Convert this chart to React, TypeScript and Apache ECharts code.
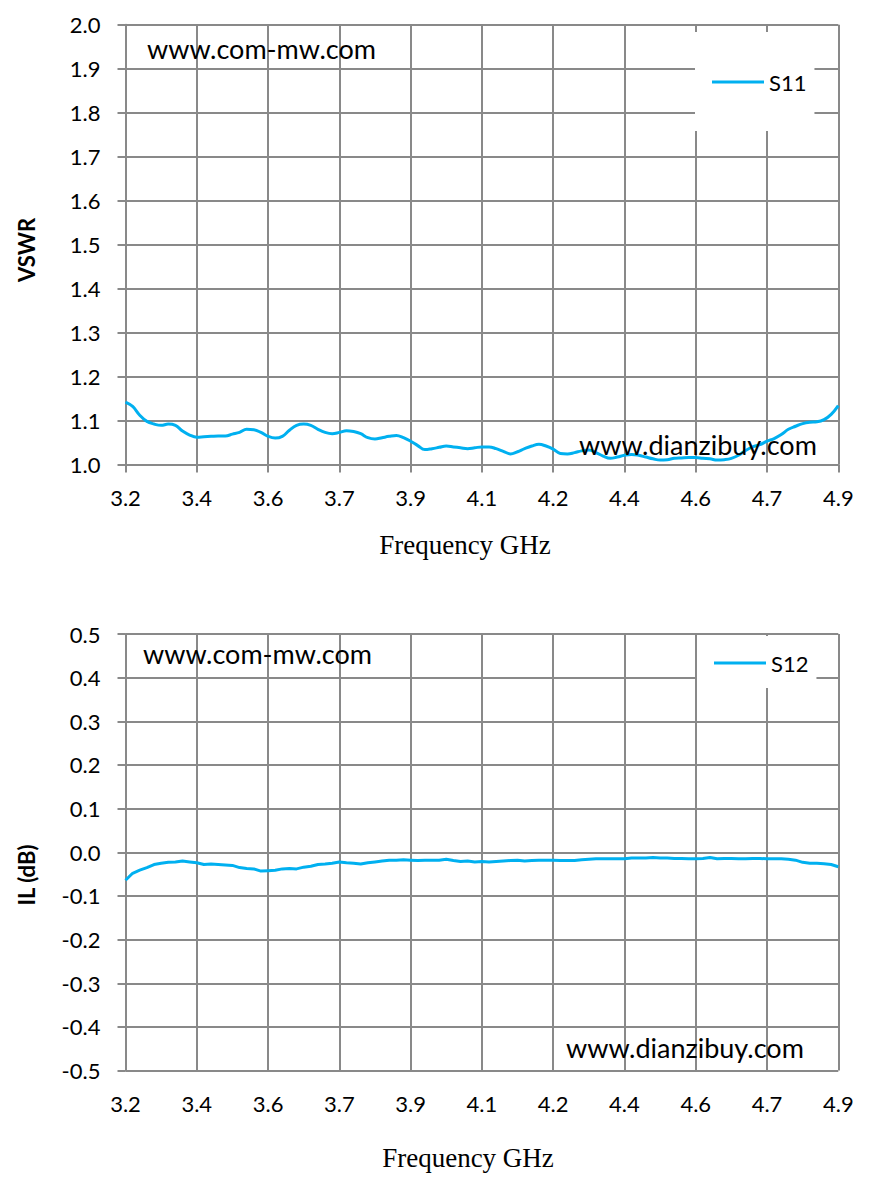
import React, { useEffect, useRef } from "react";
import * as echarts from "echarts";

const X_TICKS = ["3.2", "3.4", "3.6", "3.7", "3.9", "4.1", "4.2", "4.4", "4.6", "4.7", "4.9"];
// 101 sample points between 3.2 and 4.9 GHz
const FREQ: string[] = Array.from({ length: 101 }, (_, i) => (3.2 + i * 0.017).toFixed(3));

const S11: number[] = [
  1.142, 1.132, 1.112, 1.098, 1.092, 1.089, 1.092, 1.089, 1.076, 1.067,
  1.062, 1.063, 1.064, 1.065, 1.065, 1.069, 1.073, 1.080, 1.079, 1.073,
  1.064, 1.060, 1.064, 1.078, 1.089, 1.092, 1.089, 1.080, 1.073, 1.070,
  1.073, 1.077, 1.075, 1.070, 1.061, 1.058, 1.061, 1.064, 1.066, 1.061,
  1.053, 1.043, 1.034, 1.036, 1.039, 1.042, 1.040, 1.038, 1.036, 1.038,
  1.040, 1.040, 1.036, 1.030, 1.024, 1.029, 1.036, 1.042, 1.046, 1.042,
  1.035, 1.025, 1.024, 1.027, 1.031, 1.033, 1.027, 1.019, 1.014, 1.017,
  1.021, 1.023, 1.021, 1.017, 1.013, 1.010, 1.011, 1.014, 1.015, 1.016,
  1.016, 1.014, 1.013, 1.010, 1.011, 1.014, 1.021, 1.032, 1.040, 1.045,
  1.053, 1.059, 1.068, 1.080, 1.087, 1.093, 1.096, 1.097, 1.102, 1.114,
  1.134,
];

const S12: number[] = [
  -0.064, -0.048, -0.041, -0.035, -0.028, -0.025, -0.023, -0.022, -0.020, -0.022,
  -0.024, -0.028, -0.027, -0.028, -0.029, -0.030, -0.035, -0.037, -0.038, -0.043,
  -0.042, -0.041, -0.038, -0.037, -0.038, -0.034, -0.032, -0.028, -0.027, -0.025,
  -0.022, -0.024, -0.025, -0.027, -0.024, -0.022, -0.020, -0.018, -0.018, -0.017,
  -0.018, -0.019, -0.018, -0.018, -0.018, -0.016, -0.019, -0.021, -0.020, -0.022,
  -0.021, -0.022, -0.021, -0.020, -0.019, -0.018, -0.020, -0.019, -0.018, -0.018,
  -0.018, -0.019, -0.019, -0.019, -0.017, -0.016, -0.015, -0.015, -0.015, -0.015,
  -0.015, -0.013, -0.013, -0.013, -0.012, -0.013, -0.013, -0.014, -0.014, -0.015,
  -0.015, -0.014, -0.012, -0.015, -0.014, -0.014, -0.015, -0.015, -0.014, -0.014,
  -0.015, -0.015, -0.015, -0.016, -0.018, -0.023, -0.025, -0.025, -0.026, -0.028,
  -0.033,
];

const GRID_COLOR = "#898989";
const LINE_COLOR = "#00B0F0";
const FONT = "Lato";

function xAxisFor(gridIndex: number) {
  return {
    type: "category",
    gridIndex,
    data: FREQ,
    boundaryGap: false,
    axisLine: { show: true, lineStyle: { color: GRID_COLOR, width: 2 } },
    axisTick: { show: true, interval: 9, length: 8, lineStyle: { color: GRID_COLOR, width: 2 } },
    splitLine: { show: true, interval: 9, lineStyle: { color: GRID_COLOR, width: 2 } },
    axisLabel: {
      interval: 9,
      margin: 22,
      color: "#000",
      fontFamily: FONT,
      fontSize: 22,
      formatter: (_v: string, idx: number) => X_TICKS[Math.round(idx / 10)] ?? "",
    },
  };
}

function yAxisFor(gridIndex: number, min: number, max: number) {
  return {
    type: "value",
    gridIndex,
    min,
    max,
    interval: 0.1,
    axisLine: { show: true, lineStyle: { color: GRID_COLOR, width: 2 } },
    axisTick: { show: true, length: 8, lineStyle: { color: GRID_COLOR, width: 2 } },
    splitLine: { show: true, lineStyle: { color: GRID_COLOR, width: 2 } },
    axisLabel: {
      margin: 25,
      color: "#000",
      fontFamily: FONT,
      fontSize: 22,
      formatter: (v: number) => (Math.abs(v) < 1e-9 ? "0.0" : v.toFixed(1)),
    },
  };
}

export default function App() {
  const ref = useRef<HTMLDivElement>(null);
  useEffect(() => {
    if (!ref.current) return;
    const chart = echarts.init(ref.current, undefined, { renderer: "svg" });
    const legendCommon = {
      orient: "horizontal",
      icon: "rect",
      itemWidth: 52,
      itemHeight: 3,
      itemGap: 5,
      backgroundColor: "#fff",
      textStyle: { color: "#000", fontFamily: FONT, fontSize: 22 },
    };
    const wm = (text: string, x: number, y: number) => ({
      type: "text",
      x,
      y,
      z: 10,
      style: { text, fill: "#000", font: `27px ${FONT}`, align: "left", verticalAlign: "middle" },
    });
    const title = (text: string, x: number, y: number) => ({
      type: "text",
      x,
      y,
      style: { text, fill: "#000", font: `27px "Liberation Serif"`, align: "center", verticalAlign: "middle" },
    });
    const ytitle = (text: string, x: number, y: number) => ({
      type: "text",
      x,
      y,
      rotation: Math.PI / 2,
      style: { text, fill: "#000", font: `bold 22px ${FONT}`, align: "center", verticalAlign: "middle" },
    });
    chart.setOption({
      animation: false,
      backgroundColor: "#fff",
      grid: [
        { left: 125.5, top: 24.7, width: 712.8, height: 439.8 },
        { left: 125.5, top: 634, width: 712.8, height: 436.6 },
      ],
      xAxis: [xAxisFor(0), xAxisFor(1)],
      yAxis: [yAxisFor(0, 1.0, 2.0), yAxisFor(1, -0.5, 0.5)],
      legend: [
        { ...legendCommon, data: ["S11"], left: 695, top: 32, padding: [39, 8, 38, 17] },
        { ...legendCommon, data: ["S12"], left: 697, top: 636, padding: [16, 8, 14, 17] },
      ],
      series: [
        {
          name: "S11",
          type: "line",
          xAxisIndex: 0,
          yAxisIndex: 0,
          data: S11,
          showSymbol: false,
          symbol: "none",
          smooth: 0.4,
          itemStyle: { color: LINE_COLOR },
          lineStyle: { color: LINE_COLOR, width: 3 },
        },
        {
          name: "S12",
          type: "line",
          xAxisIndex: 1,
          yAxisIndex: 1,
          data: S12,
          showSymbol: false,
          symbol: "none",
          itemStyle: { color: LINE_COLOR },
          lineStyle: { color: LINE_COLOR, width: 3 },
        },
      ],
      graphic: [
        wm("www.com-mw.com", 147, 48),
        wm("www.dianzibuy.com", 579, 444),
        wm("www.com-mw.com", 143, 653),
        wm("www.dianzibuy.com", 566, 1047),
        title("Frequency GHz", 465, 545),
        title("Frequency GHz", 468, 1158),
        ytitle("VSWR", 26, 250),
        ytitle("IL (dB)", 26, 875),
      ],
    });
    return () => chart.dispose();
  }, []);
  return (
    <div
      ref={ref}
      style={{ position: "absolute", left: 0, top: 0, width: 877, height: 1189, background: "#fff" }}
    />
  );
}
